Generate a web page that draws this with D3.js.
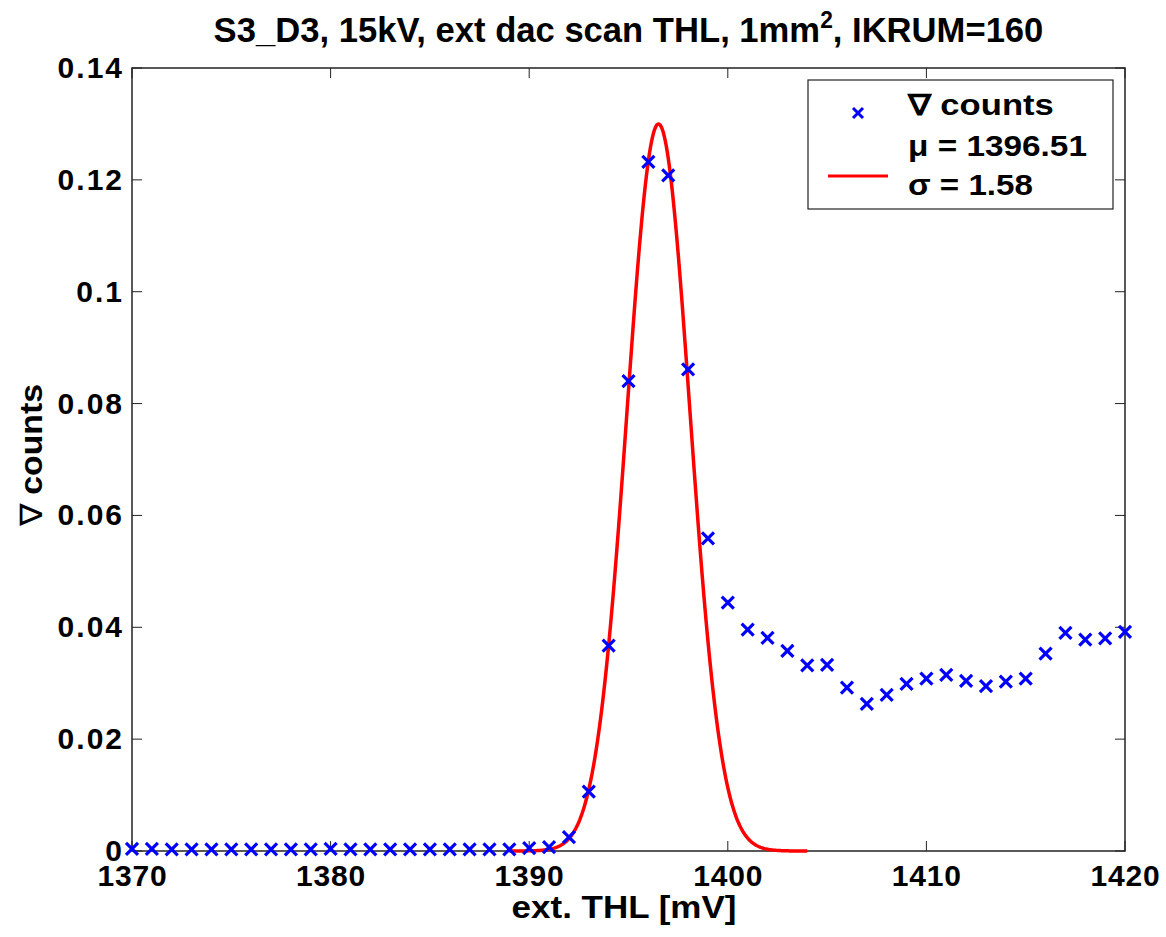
<!DOCTYPE html>
<html lang="en">
<head>
<meta charset="UTF-8">
<script src="https://d3js.org/d3.v7.min.js"></script>
<style>
  body { margin: 0; background: #ffffff; }
  svg { display: block; }
  text { font-family: "Liberation Sans", Arial, sans-serif; font-weight: bold; fill: #000; }
  .xtick { font-size: 30px; letter-spacing: 0.8px; }
  .ytick { font-size: 30px; letter-spacing: 2px; }
</style>
</head>
<body>
<script>
  const width = 1166;
  const height = 937;

  // measured derivative of counts, one point per mV
  const thl = d3.range(1370, 1421);
  const dCounts = [
    0.0004, 0.0004, 0.0003, 0.0003, 0.0003, 0.0003, 0.0003, 0.0003, 0.0003, 0.0003,
    0.0004, 0.0003, 0.0003, 0.0003, 0.0003, 0.0003, 0.0003, 0.0003, 0.0003, 0.0003,
    0.0005, 0.0007, 0.0025, 0.0106, 0.0367, 0.0840, 0.1232, 0.1208, 0.0861, 0.0559,
    0.0444, 0.0396, 0.0381, 0.0358, 0.0332, 0.0333, 0.0292, 0.0263, 0.0279, 0.0299,
    0.0308, 0.0315, 0.0304, 0.0295, 0.0303, 0.0308, 0.0353, 0.0390, 0.0378, 0.0380,
    0.0392
  ];

  // gaussian fit parameters (from legend)
  const fitMu = 1396.51;
  const fitSigma = 1.58;
  const fitAmp = 0.13;
  const fitRange = [1389, 1404];

  const xTicks = [1370, 1380, 1390, 1400, 1410, 1420];
  const yTicks = [0, 0.02, 0.04, 0.06, 0.08, 0.1, 0.12, 0.14];

  const margin = {left: 132, right: 41, top: 68, bottom: 86};

  const x = d3.scaleLinear().domain([1370, 1420]).range([margin.left, width - margin.right]);
  const y = d3.scaleLinear().domain([0, 0.14]).range([height - margin.bottom, margin.top]);

  const svg = d3.select('body').append('svg')
      .attr('width', width)
      .attr('height', height);

  const x0 = x.range()[0], x1 = x.range()[1];
  const y0 = y.range()[0], y1 = y.range()[1];

  // squash a text horizontally so it spans w pixels, keeping anchor point ax
  function fitWidth(sel, w, ax) {
    const bw = sel.node().getBBox().width;
    const k = w / bw;
    sel.attr('transform', `translate(${ax},0) scale(${k},1) translate(${-ax},0)`);
  }

  // axes box with inward ticks on all sides
  const tickLen = 10;
  const axisColor = '#222';
  const tk = svg.append('g').attr('stroke', axisColor);
  tk.selectAll('line.xb').data(xTicks).enter().append('line')
      .attr('x1', d => x(d)).attr('x2', d => x(d))
      .attr('y1', y0).attr('y2', y0 - tickLen);
  tk.selectAll('line.xtop').data(xTicks).enter().append('line')
      .attr('x1', d => x(d)).attr('x2', d => x(d))
      .attr('y1', y1).attr('y2', y1 + tickLen);
  tk.selectAll('line.yl').data(yTicks).enter().append('line')
      .attr('x1', x0).attr('x2', x0 + tickLen)
      .attr('y1', d => y(d)).attr('y2', d => y(d));
  tk.selectAll('line.yr').data(yTicks).enter().append('line')
      .attr('x1', x1).attr('x2', x1 - tickLen)
      .attr('y1', d => y(d)).attr('y2', d => y(d));
  svg.append('rect')
      .attr('x', x0).attr('y', y1)
      .attr('width', x1 - x0).attr('height', y0 - y1)
      .attr('fill', 'none')
      .attr('stroke', axisColor)
      .attr('stroke-width', 1.5);

  // tick labels
  svg.append('g').selectAll('text')
      .data(xTicks).enter()
      .append('text')
      .attr('class', 'xtick')
      .attr('x', d => x(d) + 0.4)
      .attr('y', y0 + 35)
      .attr('text-anchor', 'middle')
      .text(d => d);
  svg.append('g').selectAll('text')
      .data(yTicks).enter()
      .append('text')
      .attr('class', 'ytick')
      .attr('x', x0 - 8)
      .attr('y', d => y(d) + 10)
      .attr('text-anchor', 'end')
      .text(d => +d.toFixed(2));

  // fit curve
  const fitX = d3.range(fitRange[0], fitRange[1] + 0.001, 0.05);
  const line = d3.line()
      .x(d => x(d))
      .y(d => y(fitAmp * Math.exp(-0.5 * Math.pow((d - fitMu) / fitSigma, 2))));
  svg.append('path')
      .datum(fitX)
      .attr('d', line)
      .attr('fill', 'none')
      .attr('stroke', '#ff0000')
      .attr('stroke-width', 3.5)
      .attr('stroke-linejoin', 'round');

  // data markers
  const m = 6;
  const cross = `M${-m},${-m}L${m},${m}M${-m},${m}L${m},${-m}`;
  svg.append('g').selectAll('path')
      .data(thl.map((t, i) => [t, dCounts[i]])).enter()
      .append('path')
      .attr('transform', d => `translate(${x(d[0])},${y(d[1])})`)
      .attr('d', cross)
      .attr('stroke', '#0000ff')
      .attr('stroke-width', 3.2)
      .attr('fill', 'none');

  // title
  const cx = (x0 + x1) / 2;
  const title = svg.append('text')
      .attr('x', cx)
      .attr('y', 42)
      .attr('text-anchor', 'middle')
      .style('font-size', '35px');
  title.append('tspan').text('S3_D3, 15kV, ext dac scan THL, 1mm');
  title.append('tspan').attr('dy', -14).style('font-size', '23px').text('2');
  title.append('tspan').attr('dy', 14).text(', IKRUM=160');
  fitWidth(title, 830, cx);

  // axis labels
  const xl = svg.append('text')
      .attr('x', 624)
      .attr('y', 918)
      .attr('text-anchor', 'middle')
      .style('font-size', '31px')
      .text('ext. THL [mV]');
  fitWidth(xl, 225, 624);

  const yl = svg.append('g')
      .attr('transform', 'translate(42,455) rotate(-90)')
      .append('text')
      .attr('x', 0)
      .attr('y', 0)
      .attr('text-anchor', 'middle')
      .style('font-size', '31px');
  yl.append('tspan').style('font-weight', 'normal').text('\u2207');
  yl.append('tspan').text(' counts');
  fitWidth(yl, 144, 0);

  // legend
  const lg = svg.append('g');
  lg.append('rect')
      .attr('x', 808).attr('y', 80)
      .attr('width', 305).attr('height', 129)
      .attr('fill', '#fff')
      .attr('stroke', axisColor)
      .attr('stroke-width', 1.2);
  lg.append('path')
      .attr('transform', 'translate(858,113)')
      .attr('d', 'M-5,-5L5,5M-5,5L5,-5')
      .attr('stroke', '#0000ff')
      .attr('stroke-width', 3)
      .attr('fill', 'none');
  lg.append('line')
      .attr('x1', 828).attr('x2', 888)
      .attr('y1', 176).attr('y2', 176)
      .attr('stroke', '#ff0000')
      .attr('stroke-width', 3);
  const legendLines = ['\u2207 counts', '\u03bc = ' + fitMu, '\u03c3 = ' + fitSigma];
  const legendWidths = [147, 179, 125];
  const legendY = [115, 156, 195];
  lg.selectAll('text.lt')
      .data(legendLines).enter()
      .append('text')
      .attr('x', 908)
      .attr('y', (d, i) => legendY[i])
      .style('font-size', '29px')
      .text(d => d)
      .each(function(d, i) { fitWidth(d3.select(this), legendWidths[i], 908); });
</script>
</body>
</html>
